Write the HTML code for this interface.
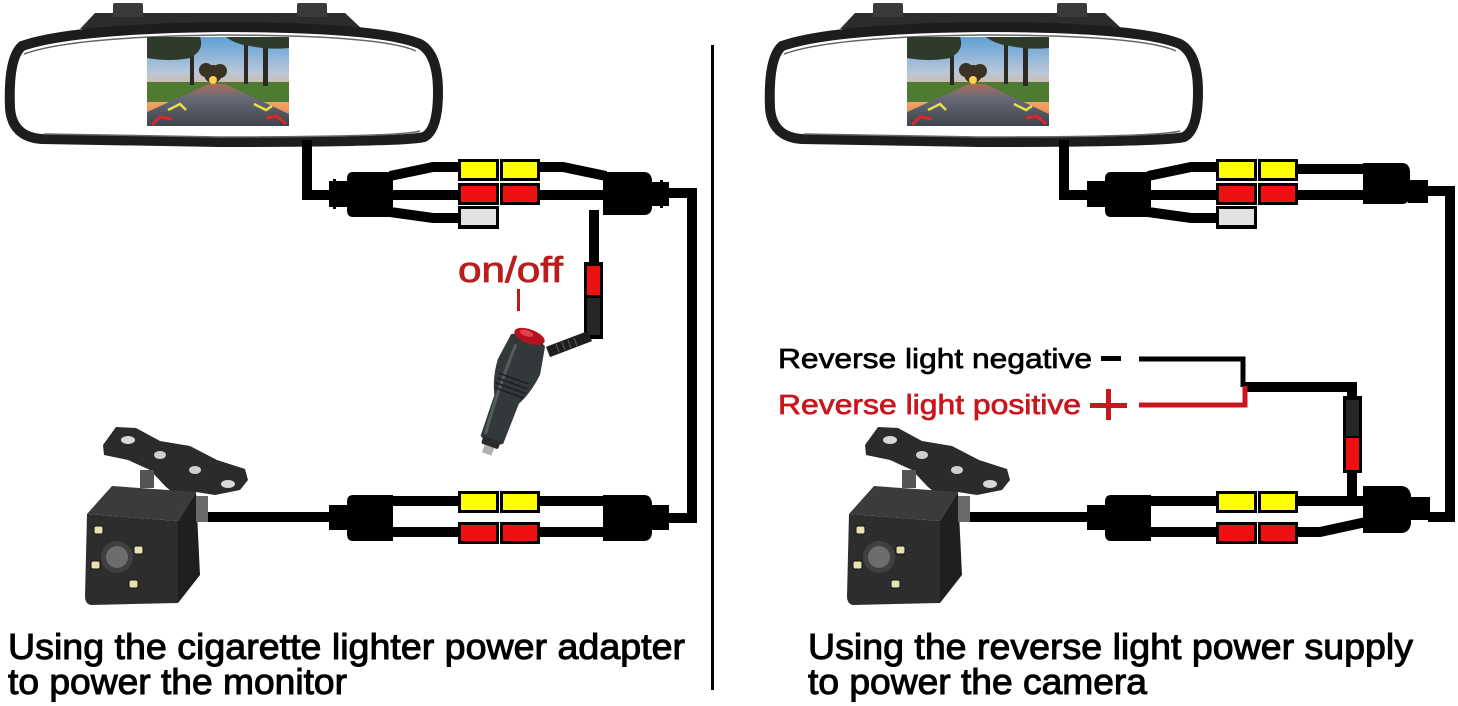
<!DOCTYPE html>
<html><head><meta charset="utf-8"><style>
html,body{margin:0;padding:0;background:#fff;}
svg{display:block;}
text{font-family:"Liberation Sans",Arial,sans-serif;}
</style></head><body>
<svg width="1458" height="706" viewBox="0 0 1458 706" xmlns="http://www.w3.org/2000/svg">
<defs>
<linearGradient id="sky" x1="0" y1="0" x2="0" y2="1">
<stop offset="0" stop-color="#5f9fd6"/><stop offset="0.4" stop-color="#b9c8d8"/><stop offset="0.7" stop-color="#f0a870"/><stop offset="1" stop-color="#f07a3a"/>
</linearGradient>
<linearGradient id="road" x1="0" y1="0" x2="0" y2="1">
<stop offset="0" stop-color="#b06a58"/><stop offset="0.3" stop-color="#6a6d78"/><stop offset="1" stop-color="#3e434e"/>
</linearGradient>
<g id="mirror">
  <path d="M80,29 L95,13 L345,13 L362,29 Z" fill="#2c2c2c"/>
  <rect x="113" y="3" width="30" height="14" rx="2" fill="#3a3a3a"/>
  <rect x="297" y="3" width="30" height="14" rx="2" fill="#3a3a3a"/>
  <path d="M22,46 Q70,29 220,27 Q380,27 420,44 Q438,54 438,92 Q438,130 424,137 Q405,142 220,142 L42,139 Q12,137 10,108 Q8,58 22,46 Z" fill="#fff" stroke="#1d1d1d" stroke-width="10"/>
  <path d="M24,54 Q70,37 220,35 Q380,35 416,51" fill="none" stroke="#666" stroke-width="1.5"/>
  <path d="M44,134 L220,137 Q400,137 420,131" fill="none" stroke="#666" stroke-width="1.5"/>
  <!-- screen -->
  <rect x="147" y="37" width="142" height="89" fill="url(#sky)"/>
  <path d="M147,82 L289,82 L289,102 L147,102 Z" fill="#4f7a32"/>
  <path d="M209,84 L225,84 L289,114 L289,126 L147,126 L147,112 Z" fill="url(#road)"/>
  <circle cx="213" cy="74" r="9" fill="#3a3020"/>
  <circle cx="206" cy="70" r="7" fill="#3a3222"/>
  <circle cx="220" cy="71" r="7" fill="#3a3222"/>
  <circle cx="213" cy="80" r="4" fill="#ffcf50"/>
  <rect x="190" y="42" width="4" height="43" fill="#2a2a22"/>
  <path d="M147,37 L200,37 Q205,50 190,58 Q170,62 147,58 Z" fill="#2e3a2a"/>
  <rect x="244" y="42" width="4" height="42" fill="#2a2a22"/>
  <rect x="263" y="40" width="5" height="46" fill="#2a2a22"/>
  <path d="M226,37 L289,37 L289,48 Q270,50 250,46 Q235,44 226,37 Z" fill="#2e3a2a"/>
  <path d="M168,110 L180,104 L186,110" fill="none" stroke="#e8e04a" stroke-width="2.5"/>
  <path d="M254,104 L266,110 L272,106" fill="none" stroke="#e8e04a" stroke-width="2.5"/>
  <path d="M152,125 L160,117 L172,119" fill="none" stroke="#d8282a" stroke-width="3"/>
  <path d="M266,118 L277,116 L286,124" fill="none" stroke="#d8282a" stroke-width="3"/>
</g>
<g id="camera">
  <path d="M103,445 L116,427 L136,428 L160,441 L190,446 L217,460 L245,469 L248,480 L240,490 L215,495 L196,492 L182,500 L166,487 L150,470 L128,460 L104,455 Z" fill="#2b2b2b"/>
  <ellipse cx="128" cy="440" rx="7" ry="4" fill="#d8d8d8"/>
  <ellipse cx="160" cy="455" rx="6" ry="4" fill="#cfcfcf"/>
  <ellipse cx="228" cy="484" rx="7" ry="4" fill="#d8d8d8"/>
  <ellipse cx="195" cy="470" rx="6" ry="4" fill="#cfcfcf"/>
  <rect x="140" y="470" width="14" height="18" fill="#555"/>
  <path d="M87,514 L112,486 L196,492 L178,521 Z" fill="#3b3b3b"/>
  <path d="M178,521 L196,492 L200,575 L178,603 Z" fill="#1f1f1f"/>
  <rect x="196" y="496" width="12" height="26" fill="#6a6a6a"/>
  <path d="M87,514 L178,521 L178,603 L91,605 Q85,604 85,596 Z" fill="#2d2d2d"/>
  <rect x="94" y="526" width="9" height="8" rx="2" fill="#e7e2b0" stroke="#111" stroke-width="1"/>
  <rect x="134" y="546" width="9" height="8" rx="2" fill="#e7e2b0" stroke="#111" stroke-width="1"/>
  <rect x="91" y="561" width="9" height="8" rx="2" fill="#e7e2b0" stroke="#111" stroke-width="1"/>
  <rect x="129" y="580" width="9" height="8" rx="2" fill="#e7e2b0" stroke="#111" stroke-width="1"/>
  <circle cx="117" cy="557" r="16" fill="#404040"/>
  <circle cx="117" cy="557" r="11" fill="#6d6d6d"/>
</g>
<g id="blocks">
  <rect x="458" y="0" width="41" height="22" fill="#000"/>
  <rect x="461" y="3" width="35" height="16" fill="#ffff00"/>
  <rect x="499" y="0" width="1.5" height="22" fill="#fff"/>
  <rect x="500" y="0" width="40" height="22" fill="#000"/>
  <rect x="503" y="3" width="34" height="16" fill="#ffff00"/>
</g>
<g id="rblocks">
  <rect x="458" y="0" width="41" height="22" fill="#000"/>
  <rect x="461" y="3" width="35" height="16" fill="#ee1111"/>
  <rect x="499" y="0" width="1.5" height="22" fill="#fff"/>
  <rect x="500" y="0" width="40" height="22" fill="#000"/>
  <rect x="503" y="3" width="34" height="16" fill="#ee1111"/>
</g>
</defs>

<rect width="1458" height="706" fill="#fff"/>

<!-- ================= LEFT PANEL ================= -->
<use href="#mirror"/>
<g fill="none" stroke="#000" stroke-width="10">
  <path d="M307,140 V195 H332"/>
  <path d="M390,176 L433,167 L465,167"/>
  <path d="M390,195 H465"/>
  <path d="M390,212 L433,218 L465,218"/>
  <path d="M535,167 L563,167 L606,176"/>
  <path d="M535,195 H606"/>
  <path d="M668,193 H692 V518 H668"/>
  <path d="M594,210 V266"/>
  <!-- bottom -->
  <path d="M205,517 H332"/>
  <path d="M390,501 H606"/>
  <path d="M390,532 H606"/>
</g>
<!-- top-left plugs -->
<rect x="329" y="181" width="20" height="26" fill="#000"/>
<rect x="333" y="179" width="3" height="30" fill="#000"/>
<path d="M353,172 H393 V217 H353 Q347,217 347,210 V179 Q347,172 353,172 Z" fill="#000"/>
<path d="M603,172 H644 Q651,172 652,180 V208 Q651,215 644,215 H603 Z" fill="#000"/>
<rect x="650" y="182" width="19" height="24" fill="#000"/>
<rect x="660" y="180" width="3" height="28" fill="#000"/>
<use href="#blocks" y="159"/>
<use href="#rblocks" y="183"/>
<rect x="458" y="206" width="41" height="23" fill="#000"/>
<rect x="461" y="209" width="35" height="16" fill="#e2e2e2"/>
<!-- bottom-left plugs -->
<rect x="329" y="505" width="20" height="25" fill="#000"/>
<path d="M353,495 H393 V541 H353 Q347,541 347,534 V502 Q347,495 353,495 Z" fill="#000"/>
<path d="M603,495 H644 Q651,495 652,503 V533 Q651,541 644,541 H603 Z" fill="#000"/>
<rect x="650" y="505" width="19" height="25" fill="#000"/>
<use href="#blocks" y="491"/>
<use href="#rblocks" y="522"/>

<!-- inline fuse left -->
<rect x="584" y="262" width="19" height="77" fill="#000"/>
<rect x="587" y="266" width="13" height="29" fill="#ee1111"/>
<rect x="587" y="298" width="13" height="37" fill="#262626"/>
<path d="M590,336 L548,352" stroke="#1e1e1e" stroke-width="11" fill="none"/>
<path d="M556,344 l3,8 M562,342 l3,8 M568,340 l3,8 M574,338 l3,8" stroke="#555" stroke-width="1.2"/>
<!-- lighter -->
<g transform="rotate(20 510 390)">
  <path d="M492,337 Q510,327 528,337 L533,365 Q531,385 523,400 L522,443 Q510,451 498,443 L497,400 Q489,384 488,365 Z" fill="#33393a"/>
  <path d="M500,345 Q498,390 502,440" stroke="#555c5d" stroke-width="3" fill="none"/>
  <path d="M494,378 H526 M494,383 H526 M494,388 H526 M495,393 H525" stroke="#1c1f20" stroke-width="1.5"/>
  <ellipse cx="510" cy="333" rx="16" ry="7" fill="#b5121e"/>
  <ellipse cx="506" cy="331" rx="7" ry="3" fill="#e04050"/>
  <rect x="501" y="442" width="18" height="8" rx="2" fill="#2a2a2a"/>
  <rect x="505" y="450" width="10" height="8" fill="#b0b0b0"/>
</g>
<text x="458" y="282" font-size="36" fill="#bb1c1c" stroke="#bb1c1c" stroke-width="0.8" textLength="105" lengthAdjust="spacingAndGlyphs">on/off</text>
<rect x="517" y="289" width="3" height="22" fill="#bb1c1c"/>

<use href="#camera"/>

<!-- divider -->
<rect x="711" y="45" width="3" height="645" fill="#000"/>

<text x="8" y="659" font-size="36" fill="#000" stroke="#000" stroke-width="1" textLength="677" lengthAdjust="spacingAndGlyphs">Using the cigarette lighter power adapter</text>
<text x="8" y="694" font-size="36" fill="#000" stroke="#000" stroke-width="1" textLength="339" lengthAdjust="spacingAndGlyphs">to power the monitor</text>

<!-- ================= RIGHT PANEL ================= -->
<use href="#mirror" x="760"/>
<g fill="none" stroke="#000" stroke-width="10">
  <path d="M1064,140 V195 H1090"/>
  <path d="M1148,176 L1191,167 L1223,167"/>
  <path d="M1148,195 H1223"/>
  <path d="M1148,212 L1191,218 L1223,218"/>
  <path d="M1293,169 H1366"/>
  <path d="M1293,195 H1366"/>
  <path d="M1428,191 H1450 V517 H1428"/>
  <!-- bottom -->
  <path d="M965,517 H1090"/>
  <path d="M1148,501 H1366"/>
  <path d="M1148,532 H1320 L1366,522"/>
  <path d="M1352,470 V502"/>
  <path d="M1352,400 V387 H1244"/>
</g>
<path d="M1139,359 H1243 V387" fill="none" stroke="#000" stroke-width="5"/>
<path d="M1139,405 H1245 V386" fill="none" stroke="#c8161d" stroke-width="5"/>

<rect x="1087" y="181" width="20" height="26" fill="#000"/>
<path d="M1111,172 H1151 V217 H1111 Q1105,217 1105,210 V179 Q1105,172 1111,172 Z" fill="#000"/>
<path d="M1363,163 H1402 Q1409,163 1410,171 V196 Q1409,204 1402,204 H1363 Z" fill="#000"/>
<rect x="1408" y="180" width="20" height="23" fill="#000"/>
<use href="#blocks" x="758" y="159"/>
<use href="#rblocks" x="758" y="183"/>
<rect x="1216" y="206" width="41" height="23" fill="#000"/>
<rect x="1219" y="209" width="35" height="16" fill="#e2e2e2"/>

<rect x="1087" y="505" width="20" height="25" fill="#000"/>
<path d="M1111,495 H1151 V541 H1111 Q1105,541 1105,534 V502 Q1105,495 1111,495 Z" fill="#000"/>
<path d="M1363,486 H1401 Q1409,486 1411,495 V524 Q1409,533 1401,533 H1363 Z" fill="#000"/>
<rect x="1407" y="497" width="23" height="23" fill="#000"/>
<use href="#blocks" x="758" y="491"/>
<use href="#rblocks" x="758" y="522"/>

<!-- inline fuse right -->
<rect x="1343" y="396" width="19" height="77" fill="#000"/>
<rect x="1346" y="400" width="13" height="36" fill="#262626"/>
<rect x="1346" y="438" width="13" height="32" fill="#ee1111"/>

<text x="778" y="368" font-size="28" fill="#000" stroke="#000" stroke-width="0.7" textLength="314" lengthAdjust="spacingAndGlyphs">Reverse light negative</text>
<rect x="1101" y="356" width="20" height="5" fill="#000"/>
<text x="778" y="414" font-size="28" fill="#c8161d" stroke="#c8161d" stroke-width="0.7" textLength="303" lengthAdjust="spacingAndGlyphs">Reverse light positive</text>
<rect x="1090" y="403" width="37" height="5" fill="#c8161d"/>
<rect x="1106" y="389" width="5" height="31" fill="#c8161d"/>

<use href="#camera" x="762"/>

<text x="808" y="659" font-size="36" fill="#000" stroke="#000" stroke-width="1" textLength="605" lengthAdjust="spacingAndGlyphs">Using the reverse light power supply</text>
<text x="808" y="694" font-size="36" fill="#000" stroke="#000" stroke-width="1" textLength="339" lengthAdjust="spacingAndGlyphs">to power the camera</text>
</svg>
</body></html>
